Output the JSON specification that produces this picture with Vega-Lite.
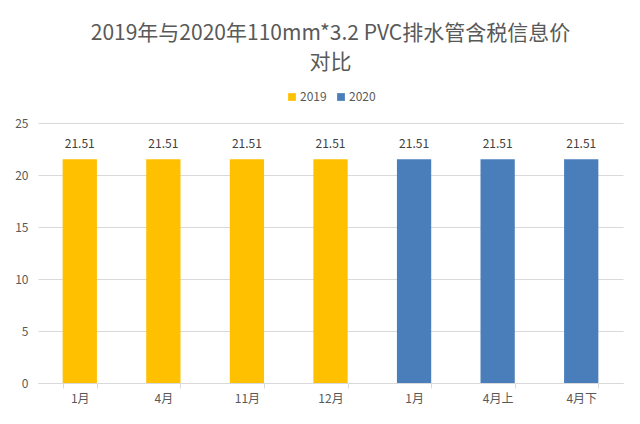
{
  "$schema": "https://vega.github.io/schema/vega-lite/v6.json",
  "width": 585,
  "height": 260,
  "padding": {"left": 14, "top": 23, "right": 18, "bottom": 10},
  "background": "white",
  "title": {
    "text": ["2019年与2020年110mm*3.2 PVC排水管含税信息价", "对比"],
    "font": "Noto Sans CJK SC",
    "fontSize": 21,
    "fontWeight": "normal",
    "color": "#595959",
    "lineHeight": 29,
    "anchor": "middle",
    "frame": "group",
    "offset": 18
  },
  "data": {
    "values": [
      {"key": "2019-1月", "year": "2019", "price": 21.51},
      {"key": "2019-4月", "year": "2019", "price": 21.51},
      {"key": "2019-11月", "year": "2019", "price": 21.51},
      {"key": "2019-12月", "year": "2019", "price": 21.51},
      {"key": "2020-1月", "year": "2020", "price": 21.51},
      {"key": "2020-4月上", "year": "2020", "price": 21.51},
      {"key": "2020-4月下", "year": "2020", "price": 21.51}
    ]
  },
  "encoding": {
    "x": {
      "field": "key",
      "type": "nominal",
      "sort": null,
      "scale": {"paddingInner": 0.59, "paddingOuter": 0.295},
      "axis": {
        "title": null,
        "labelAngle": 0,
        "labelExpr": "substring(datum.label, 5)",
        "labelFont": "Noto Sans CJK SC",
        "labelFontSize": 12,
        "labelColor": "#595959",
        "labelPadding": 5,
        "tickBand": "extent",
        "tickColor": "#d9d9d9",
        "tickSize": 5,
        "domainColor": "#d9d9d9"
      }
    },
    "y": {
      "field": "price",
      "type": "quantitative",
      "scale": {"domain": [0, 25], "nice": false},
      "axis": {
        "title": null,
        "values": [0, 5, 10, 15, 20, 25],
        "domain": false,
        "ticks": false,
        "labelFont": "Noto Sans CJK SC",
        "labelFontSize": 12,
        "labelColor": "#595959",
        "labelPadding": 10,
        "gridColor": "#d9d9d9"
      }
    }
  },
  "layer": [
    {
      "mark": {"type": "bar"},
      "encoding": {
        "color": {
          "field": "year",
          "type": "nominal",
          "scale": {"domain": ["2019", "2020"], "range": ["#FFC000", "#4A7EBB"]},
          "legend": {
            "title": null,
            "orient": "top",
            "direction": "horizontal",
            "symbolType": "square",
            "symbolSize": 60,
            "symbolStrokeWidth": 0,
            "labelFont": "Noto Sans CJK SC",
            "labelFontSize": 12,
            "labelColor": "#595959",
            "columnPadding": 8,
            "labelOffset": 2,
            "offset": 20
          }
        }
      }
    },
    {
      "mark": {
        "type": "text",
        "baseline": "bottom",
        "dy": -8,
        "font": "Noto Sans CJK SC",
        "fontSize": 12,
        "color": "#404040"
      },
      "encoding": {
        "text": {"field": "price", "type": "quantitative", "format": ".2f"}
      }
    }
  ],
  "config": {
    "view": {"stroke": null},
    "legend": {"layout": {"top": {"anchor": "middle"}}}
  }
}
